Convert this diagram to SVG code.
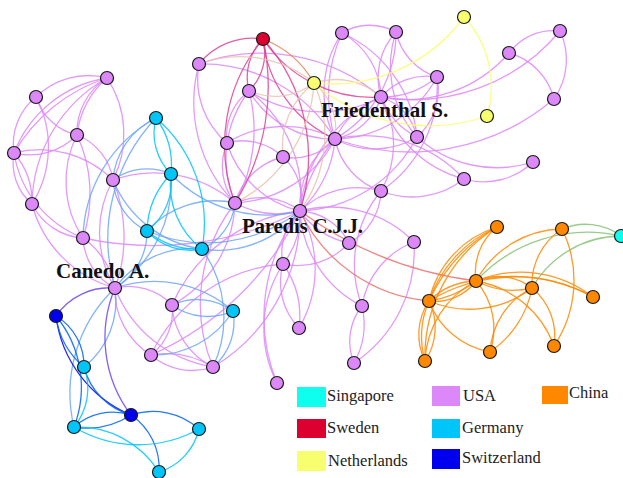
<svg xmlns="http://www.w3.org/2000/svg" width="623" height="478" viewBox="0 0 623 478">
<style>
path{fill:none;stroke-width:1.3;stroke-opacity:.85}
.uu{stroke:#DD88F8}.ug{stroke:#6EA6F8}.us{stroke:#6E44F3}.usw{stroke:#DC4494}.un{stroke:#EAC3B3}
.uc{stroke:#EE6F6C}.csg{stroke:#87C377}.gs{stroke:#0062F3}.swn{stroke:#EA7F4F}.gg{stroke:#00C5F8}
.ss{stroke:#0000EE}.nn{stroke:#F8FF6E}.cc{stroke:#FF8800}
circle{stroke:#1a1a1a;stroke-width:1.2}
.u{fill:#DD88F8}.g{fill:#00C5F8}.s{fill:#0000EE}.sw{fill:#DC0030}.n{fill:#F8FF6E}.c{fill:#FF8800}.sg{fill:#0FFFEF}
.lbl{font-family:"Liberation Serif",serif;font-weight:bold;font-size:21px;fill:#111}
.lg{font-family:"Liberation Serif",serif;font-size:16.5px;fill:#222}
</style>
<g id="links">
<path class="uu" d="M36 97 A74 74 0 0 1 107 78"/>
<path class="uu" d="M14 153 A119 119 0 0 1 107 78"/>
<path class="uu" d="M14 153 A165 165 0 0 1 107 78"/>
<path class="uu" d="M77 135 A64 64 0 0 1 107 78"/>
<path class="uu" d="M77 135 A90 90 0 0 1 107 78"/>
<path class="uu" d="M36 97 A56 56 0 0 0 77 135"/>
<path class="uu" d="M14 153 A66 66 0 0 0 77 135"/>
<path class="uu" d="M36 97 A60 60 0 0 0 14 153"/>
<path class="uu" d="M107 78 A147 147 0 0 0 32 204"/>
<path class="uu" d="M36 97 A107 107 0 0 1 32 204"/>
<path class="uu" d="M77 135 A103 103 0 0 0 83 238"/>
<path class="uu" d="M77 135 A140 140 0 0 1 83 238"/>
<path class="uu" d="M77 135 A58 58 0 0 1 113 180"/>
<path class="uu" d="M14 153 A54 54 0 0 0 32 204"/>
<path class="uu" d="M14 153 A75 75 0 0 1 32 204"/>
<path class="uu" d="M14 153 A110 110 0 0 0 83 238"/>
<path class="uu" d="M14 153 A103 103 0 0 1 113 180"/>
<path class="uu" d="M32 204 A61 61 0 0 0 83 238"/>
<path class="uu" d="M32 204 A118 118 0 0 0 115 288"/>
<path class="uu" d="M113 180 A108 108 0 0 0 115 288"/>
<path class="uu" d="M113 180 A150 150 0 0 1 115 288"/>
<path class="uu" d="M83 238 A59 59 0 0 0 115 288"/>
<path class="uu" d="M83 238 A80 80 0 0 1 115 288"/>
<path class="uu" d="M83 238 A330 330 0 0 0 300 211"/>
<path class="uu" d="M113 180 A124 124 0 0 1 235 203"/>
<path class="uu" d="M107 78 A102 102 0 0 1 113 180"/>
<path class="uu" d="M172 305 A54 54 0 0 1 151 355"/>
<path class="uu" d="M172 305 A74 74 0 0 0 213 367"/>
<path class="uu" d="M151 355 A63 63 0 0 0 213 367"/>
<path class="uu" d="M151 355 A90 90 0 0 1 213 367"/>
<path class="uu" d="M115 288 A76 76 0 0 0 151 355"/>
<path class="uu" d="M115 288 A126 126 0 0 0 213 367"/>
<path class="uu" d="M115 288 A60 60 0 0 1 172 305"/>
<path class="uu" d="M151 355 A300 300 0 0 0 300 211"/>
<path class="uu" d="M213 367 A179 179 0 0 0 300 211"/>
<path class="uu" d="M172 305 A159 159 0 0 1 300 211"/>
<path class="uu" d="M213 367 A164 164 0 0 1 235 203"/>
<path class="uu" d="M151 355 A160 160 0 0 1 283 264"/>
<path class="uu" d="M172 305 A120 120 0 0 0 235 203"/>
<path class="uu" d="M342 33 A54 54 0 0 1 396 32"/>
<path class="uu" d="M342 33 A75 75 0 0 1 381 97"/>
<path class="uu" d="M342 33 A106 106 0 0 0 335 139"/>
<path class="uu" d="M342 33 A150 150 0 0 0 335 139"/>
<path class="uu" d="M396 32 A67 67 0 0 0 381 97"/>
<path class="uu" d="M396 32 A123 123 0 0 1 335 139"/>
<path class="uu" d="M396 32 A61 61 0 0 0 437 77"/>
<path class="uu" d="M396 32 A107 107 0 0 0 417 137"/>
<path class="uu" d="M342 33 A128 128 0 0 1 417 137"/>
<path class="uu" d="M381 97 A60 60 0 0 1 437 77"/>
<path class="uu" d="M381 97 A85 85 0 0 0 437 77"/>
<path class="uu" d="M437 77 A63 63 0 0 1 417 137"/>
<path class="uu" d="M381 97 A54 54 0 0 1 417 137"/>
<path class="uu" d="M381 97 A75 75 0 0 0 417 137"/>
<path class="uu" d="M381 97 A117 117 0 0 0 464 179"/>
<path class="uu" d="M381 97 A135 135 0 0 0 509 53"/>
<path class="uu" d="M381 97 A191 191 0 0 0 560 31"/>
<path class="uu" d="M509 53 A55 55 0 0 1 560 31"/>
<path class="uu" d="M560 31 A68 68 0 0 1 554 99"/>
<path class="uu" d="M509 53 A64 64 0 0 1 554 99"/>
<path class="uu" d="M554 99 A223 223 0 0 1 335 139"/>
<path class="uu" d="M417 137 A119 119 0 0 0 533 162"/>
<path class="uu" d="M464 179 A71 71 0 0 0 533 162"/>
<path class="uu" d="M417 137 A138 138 0 0 1 300 211"/>
<path class="uu" d="M437 77 A119 119 0 0 1 335 139"/>
<path class="uu" d="M381 97 A62 62 0 0 1 335 139"/>
<path class="uu" d="M381 97 A85 85 0 0 0 335 139"/>
<path class="uu" d="M381 97 A140 140 0 0 0 300 211"/>
<path class="uu" d="M381 97 A94 94 0 0 1 381 191"/>
<path class="uu" d="M437 77 A127 127 0 0 1 381 191"/>
<path class="uu" d="M464 179 A135 135 0 0 0 335 139"/>
<path class="uu" d="M464 179 A84 84 0 0 1 381 191"/>
<path class="uu" d="M417 137 A82 82 0 0 1 335 139"/>
<path class="uu" d="M199 64 A185 185 0 0 1 381 97"/>
<path class="uu" d="M199 64 A155 155 0 0 1 335 139"/>
<path class="uu" d="M199 64 A84 84 0 0 0 227 143"/>
<path class="uu" d="M199 64 A144 144 0 0 0 235 203"/>
<path class="uu" d="M249 91 A132 132 0 0 0 381 97"/>
<path class="uu" d="M249 91 A98 98 0 0 0 335 139"/>
<path class="uu" d="M249 91 A112 112 0 0 0 235 203"/>
<path class="uu" d="M249 91 A150 150 0 0 1 235 203"/>
<path class="uu" d="M249 91 A56 56 0 0 0 227 143"/>
<path class="uu" d="M249 91 A130 130 0 0 1 300 211"/>
<path class="uu" d="M227 143 A60 60 0 0 0 235 203"/>
<path class="uu" d="M227 143 A100 100 0 0 0 300 211"/>
<path class="uu" d="M227 143 A58 58 0 0 1 283 157"/>
<path class="uu" d="M227 143 A108 108 0 0 1 335 139"/>
<path class="uu" d="M283 157 A56 56 0 0 1 300 211"/>
<path class="uu" d="M283 157 A55 55 0 0 0 335 139"/>
<path class="uu" d="M283 157 A66 66 0 0 0 235 203"/>
<path class="uu" d="M335 139 A80 80 0 0 0 300 211"/>
<path class="uu" d="M335 139 A110 110 0 0 1 300 211"/>
<path class="uu" d="M335 139 A160 160 0 0 0 300 211"/>
<path class="uu" d="M335 139 A69 69 0 0 0 381 191"/>
<path class="uu" d="M335 139 A119 119 0 0 1 235 203"/>
<path class="uu" d="M235 203 A65 65 0 0 1 300 211"/>
<path class="uu" d="M235 203 A90 90 0 0 0 300 211"/>
<path class="uu" d="M381 191 A83 83 0 0 0 300 211"/>
<path class="uu" d="M381 191 A61 61 0 0 1 349 243"/>
<path class="uu" d="M300 211 A58 58 0 0 1 349 243"/>
<path class="uu" d="M300 211 A80 80 0 0 0 349 243"/>
<path class="uu" d="M300 211 A118 118 0 0 1 414 242"/>
<path class="uu" d="M300 211 A56 56 0 0 0 283 264"/>
<path class="uu" d="M300 211 A80 80 0 0 1 283 264"/>
<path class="uu" d="M300 211 A113 113 0 0 0 362 306"/>
<path class="uu" d="M300 211 A117 117 0 0 1 299 328"/>
<path class="uu" d="M300 211 A174 174 0 0 0 277 383"/>
<path class="uu" d="M349 243 A69 69 0 0 1 283 264"/>
<path class="uu" d="M283 264 A66 66 0 0 0 299 328"/>
<path class="uu" d="M283 264 A90 90 0 0 1 299 328"/>
<path class="uu" d="M414 242 A82 82 0 0 0 362 306"/>
<path class="uu" d="M414 242 A135 135 0 0 1 354 363"/>
<path class="uu" d="M362 306 A57 57 0 0 0 354 363"/>
<path class="uu" d="M362 306 A80 80 0 0 1 354 363"/>
<path class="uu" d="M381 191 A116 116 0 0 0 362 306"/>
<path class="uu" d="M277 383 A119 119 0 0 1 283 264"/>
<path class="ug" d="M156 118 A75 75 0 0 0 113 180"/>
<path class="ug" d="M156 118 A140 140 0 0 0 83 238"/>
<path class="ug" d="M115 288 A175 175 0 0 1 156 118"/>
<path class="ug" d="M113 180 A58 58 0 0 1 171 174"/>
<path class="ug" d="M113 180 A61 61 0 0 0 147 231"/>
<path class="ug" d="M113 180 A113 113 0 0 0 202 249"/>
<path class="ug" d="M115 288 A65 65 0 0 0 147 231"/>
<path class="ug" d="M115 288 A127 127 0 0 0 171 174"/>
<path class="ug" d="M115 288 A95 95 0 0 1 202 249"/>
<path class="ug" d="M115 288 A120 120 0 0 1 233 311"/>
<path class="ug" d="M172 305 A61 61 0 0 1 233 311"/>
<path class="ug" d="M172 305 A61 61 0 0 0 233 311"/>
<path class="ug" d="M151 355 A93 93 0 0 0 233 311"/>
<path class="ug" d="M213 367 A59 59 0 0 0 233 311"/>
<path class="ug" d="M300 211 A105 105 0 0 1 202 249"/>
<path class="ug" d="M300 211 A154 154 0 0 1 147 231"/>
<path class="ug" d="M300 211 A134 134 0 0 1 171 174"/>
<path class="ug" d="M235 203 A57 57 0 0 1 202 249"/>
<path class="ug" d="M202 249 A118 118 0 0 1 213 367"/>
<path class="ug" d="M115 288 A85 85 0 0 1 84 367"/>
<path class="ug" d="M115 288 A145 145 0 0 0 74 427"/>
<path class="ug" d="M235 203 A92 92 0 0 0 147 231"/>
<path class="us" d="M115 288 A65 65 0 0 0 56 316"/>
<path class="us" d="M115 288 A128 128 0 0 0 131 415"/>
<path class="ss" d="M56 316 A124 124 0 0 0 131 415"/>
<path class="gs" d="M56 316 A58 58 0 0 1 84 367"/>
<path class="gs" d="M56 316 A80 80 0 0 0 84 367"/>
<path class="gs" d="M56 316 A112 112 0 0 1 74 427"/>
<path class="gs" d="M84 367 A67 67 0 0 0 131 415"/>
<path class="gs" d="M74 427 A58 58 0 0 1 131 415"/>
<path class="gs" d="M74 427 A80 80 0 0 0 131 415"/>
<path class="gs" d="M131 415 A69 69 0 0 1 199 429"/>
<path class="gs" d="M131 415 A64 64 0 0 1 159 472"/>
<path class="gg" d="M156 118 A58 58 0 0 0 171 174"/>
<path class="gg" d="M156 118 A80 80 0 0 1 171 174"/>
<path class="gg" d="M156 118 A139 139 0 0 1 202 249"/>
<path class="gg" d="M171 174 A62 62 0 0 1 147 231"/>
<path class="gg" d="M171 174 A85 85 0 0 0 147 231"/>
<path class="gg" d="M171 174 A81 81 0 0 0 202 249"/>
<path class="gg" d="M147 231 A58 58 0 0 0 202 249"/>
<path class="gg" d="M147 231 A80 80 0 0 0 202 249"/>
<path class="gg" d="M84 367 A61 61 0 0 1 74 427"/>
<path class="gg" d="M74 427 A125 125 0 0 0 199 429"/>
<path class="gg" d="M74 427 A96 96 0 0 1 159 472"/>
<path class="gg" d="M199 429 A59 59 0 0 1 159 472"/>
<path class="usw" d="M263 39 A69 69 0 0 0 199 64"/>
<path class="usw" d="M263 39 A54 54 0 0 0 249 91"/>
<path class="usw" d="M263 39 A54 54 0 0 1 249 91"/>
<path class="usw" d="M263 39 A166 166 0 0 0 235 203"/>
<path class="usw" d="M263 39 A220 220 0 0 1 235 203"/>
<path class="usw" d="M263 39 A131 131 0 0 0 381 97"/>
<path class="usw" d="M263 39 A123 123 0 0 0 335 139"/>
<path class="usw" d="M263 39 A176 176 0 0 1 300 211"/>
<path class="swn" d="M263 39 A100 100 0 0 1 314 83"/>
<path class="un" d="M314 83 A117 117 0 0 0 199 64"/>
<path class="un" d="M314 83 A65 65 0 0 1 249 91"/>
<path class="un" d="M314 83 A144 144 0 0 1 235 203"/>
<path class="un" d="M314 83 A129 129 0 0 1 300 211"/>
<path class="un" d="M314 83 A68 68 0 0 1 381 97"/>
<path class="un" d="M314 83 A60 60 0 0 1 335 139"/>
<path class="un" d="M314 83 A80 80 0 0 0 283 157"/>
<path class="nn" d="M314 83 A164 164 0 0 0 464 17"/>
<path class="nn" d="M314 83 A176 176 0 0 0 487 116"/>
<path class="nn" d="M464 17 A102 102 0 0 1 487 116"/>
<path class="uc" d="M300 211 A157 157 0 0 0 429 301"/>
<path class="uc" d="M300 211 A380 380 0 0 0 476 281"/>
<path class="csg" d="M621 236 A60 60 0 0 0 562 229"/>
<path class="csg" d="M621 236 A152 152 0 0 0 476 281"/>
<path class="csg" d="M621 236 A103 103 0 0 0 532 288"/>
<path class="cc" d="M497 227 A100 100 0 0 0 429 301"/>
<path class="cc" d="M497 227 A125 125 0 0 0 429 301"/>
<path class="cc" d="M497 227 A160 160 0 0 0 429 301"/>
<path class="cc" d="M497 227 A58 58 0 0 0 476 281"/>
<path class="cc" d="M562 229 A100 100 0 0 0 476 281"/>
<path class="cc" d="M562 229 A117 117 0 0 1 554 346"/>
<path class="cc" d="M562 229 A66 66 0 0 0 532 288"/>
<path class="cc" d="M476 281 A56 56 0 0 1 532 288"/>
<path class="cc" d="M476 281 A80 80 0 0 0 532 288"/>
<path class="cc" d="M476 281 A51 51 0 0 1 429 301"/>
<path class="cc" d="M476 281 A70 70 0 0 0 429 301"/>
<path class="cc" d="M476 281 A100 100 0 0 1 429 301"/>
<path class="cc" d="M476 281 A118 118 0 0 1 593 297"/>
<path class="cc" d="M476 281 A160 160 0 0 1 593 297"/>
<path class="cc" d="M429 301 A164 164 0 0 1 593 297"/>
<path class="cc" d="M429 301 A103 103 0 0 0 532 288"/>
<path class="cc" d="M429 301 A60 60 0 0 0 425 361"/>
<path class="cc" d="M429 301 A60 60 0 0 1 425 361"/>
<path class="cc" d="M429 301 A90 90 0 0 0 425 361"/>
<path class="cc" d="M476 281 A95 95 0 0 0 425 361"/>
<path class="cc" d="M497 227 A152 152 0 0 0 425 361"/>
<path class="cc" d="M429 301 A80 80 0 0 0 490 352"/>
<path class="cc" d="M532 288 A76 76 0 0 0 490 352"/>
<path class="cc" d="M532 288 A100 100 0 0 1 490 352"/>
<path class="cc" d="M532 288 A62 62 0 0 1 554 346"/>
<path class="cc" d="M476 281 A101 101 0 0 1 554 346"/>
<path class="cc" d="M476 281 A72 72 0 0 1 490 352"/>
</g>
<g id="nodes">
<g id="usa-1"><circle class="u" cx="107" cy="78" r="6.5"/></g>
<g id="usa-2"><circle class="u" cx="36" cy="97" r="6.5"/></g>
<g id="usa-3"><circle class="u" cx="77" cy="135" r="6.5"/></g>
<g id="usa-4"><circle class="u" cx="14" cy="153" r="6.5"/></g>
<g id="usa-5"><circle class="u" cx="32" cy="204" r="6.5"/></g>
<g id="usa-6"><circle class="u" cx="113" cy="180" r="6.5"/></g>
<g id="usa-7"><circle class="u" cx="83" cy="238" r="6.5"/></g>
<g id="canedo"><circle class="u" cx="115" cy="288" r="6.5"/></g>
<g id="usa-9"><circle class="u" cx="172" cy="305" r="6.5"/></g>
<g id="usa-10"><circle class="u" cx="151" cy="355" r="6.5"/></g>
<g id="usa-11"><circle class="u" cx="213" cy="367" r="6.5"/></g>
<g id="usa-12"><circle class="u" cx="277" cy="383" r="6.5"/></g>
<g id="usa-13"><circle class="u" cx="199" cy="64" r="6.5"/></g>
<g id="usa-14"><circle class="u" cx="249" cy="91" r="6.5"/></g>
<g id="usa-15"><circle class="u" cx="342" cy="33" r="6.5"/></g>
<g id="usa-16"><circle class="u" cx="396" cy="32" r="6.5"/></g>
<g id="friedenthal"><circle class="u" cx="381" cy="97" r="6.5"/></g>
<g id="usa-18"><circle class="u" cx="437" cy="77" r="6.5"/></g>
<g id="usa-19"><circle class="u" cx="509" cy="53" r="6.5"/></g>
<g id="usa-20"><circle class="u" cx="560" cy="31" r="6.5"/></g>
<g id="usa-21"><circle class="u" cx="554" cy="99" r="6.5"/></g>
<g id="usa-22"><circle class="u" cx="417" cy="137" r="6.5"/></g>
<g id="usa-23"><circle class="u" cx="533" cy="162" r="6.5"/></g>
<g id="usa-24"><circle class="u" cx="464" cy="179" r="6.5"/></g>
<g id="usa-25"><circle class="u" cx="335" cy="139" r="6.5"/></g>
<g id="usa-26"><circle class="u" cx="227" cy="143" r="6.5"/></g>
<g id="usa-27"><circle class="u" cx="283" cy="157" r="6.5"/></g>
<g id="usa-28"><circle class="u" cx="381" cy="191" r="6.5"/></g>
<g id="usa-29"><circle class="u" cx="235" cy="203" r="6.5"/></g>
<g id="paredis"><circle class="u" cx="300" cy="211" r="6.5"/></g>
<g id="usa-31"><circle class="u" cx="349" cy="243" r="6.5"/></g>
<g id="usa-32"><circle class="u" cx="414" cy="242" r="6.5"/></g>
<g id="usa-33"><circle class="u" cx="283" cy="264" r="6.5"/></g>
<g id="usa-34"><circle class="u" cx="362" cy="306" r="6.5"/></g>
<g id="usa-35"><circle class="u" cx="299" cy="328" r="6.5"/></g>
<g id="usa-36"><circle class="u" cx="354" cy="363" r="6.5"/></g>
<g id="ger-1"><circle class="g" cx="156" cy="118" r="6.5"/></g>
<g id="ger-2"><circle class="g" cx="171" cy="174" r="6.5"/></g>
<g id="ger-3"><circle class="g" cx="147" cy="231" r="6.5"/></g>
<g id="ger-4"><circle class="g" cx="202" cy="249" r="6.5"/></g>
<g id="ger-5"><circle class="g" cx="233" cy="311" r="6.5"/></g>
<g id="ger-6"><circle class="g" cx="84" cy="367" r="6.5"/></g>
<g id="ger-7"><circle class="g" cx="74" cy="427" r="6.5"/></g>
<g id="ger-8"><circle class="g" cx="199" cy="429" r="6.5"/></g>
<g id="ger-9"><circle class="g" cx="159" cy="472" r="6.5"/></g>
<g id="sui-1"><circle class="s" cx="56" cy="316" r="6.5"/></g>
<g id="sui-2"><circle class="s" cx="131" cy="415" r="6.5"/></g>
<g id="swe-1"><circle class="sw" cx="263" cy="39" r="6.5"/></g>
<g id="ned-1"><circle class="n" cx="314" cy="83" r="6.5"/></g>
<g id="ned-2"><circle class="n" cx="464" cy="17" r="6.5"/></g>
<g id="ned-3"><circle class="n" cx="487" cy="116" r="6.5"/></g>
<g id="sgp-1"><circle class="sg" cx="621" cy="236" r="6.5"/></g>
<g id="chn-1"><circle class="c" cx="497" cy="227" r="6.5"/></g>
<g id="chn-2"><circle class="c" cx="562" cy="229" r="6.5"/></g>
<g id="chn-3"><circle class="c" cx="476" cy="281" r="6.5"/></g>
<g id="chn-4"><circle class="c" cx="532" cy="288" r="6.5"/></g>
<g id="chn-5"><circle class="c" cx="429" cy="301" r="6.5"/></g>
<g id="chn-6"><circle class="c" cx="593" cy="297" r="6.5"/></g>
<g id="chn-7"><circle class="c" cx="425" cy="361" r="6.5"/></g>
<g id="chn-8"><circle class="c" cx="490" cy="352" r="6.5"/></g>
<g id="chn-9"><circle class="c" cx="554" cy="346" r="6.5"/></g>
</g>
<g id="labels">
<text class="lbl" x="321" y="117">Friedenthal S.</text>
<text class="lbl" x="242" y="233" textLength="121">Paredis C.J.J.</text>
<text class="lbl" x="56" y="278">Canedo A.</text>
</g>
<g id="legend">
<rect x="297" y="387" width="29" height="20" fill="#0FFFEF"/>
<text class="lg" x="327" y="401">Singapore</text>
<rect x="297" y="419" width="29" height="19" fill="#DC0030"/>
<text class="lg" x="327" y="433">Sweden</text>
<rect x="297" y="451" width="29" height="20" fill="#F8FF6E"/>
<text class="lg" x="328" y="466">Netherlands</text>
<rect x="432" y="386" width="28" height="20" fill="#DD88F8"/>
<text class="lg" x="463" y="401">USA</text>
<rect x="432" y="419" width="28" height="19" fill="#00C5F8"/>
<text class="lg" x="462" y="433">Germany</text>
<rect x="432" y="449" width="28" height="20" fill="#0000EE"/>
<text class="lg" x="462" y="463">Switzerland</text>
<rect x="542" y="386" width="26" height="18" fill="#FF8800"/>
<text class="lg" x="569" y="398">China</text>
</g>
</svg>
